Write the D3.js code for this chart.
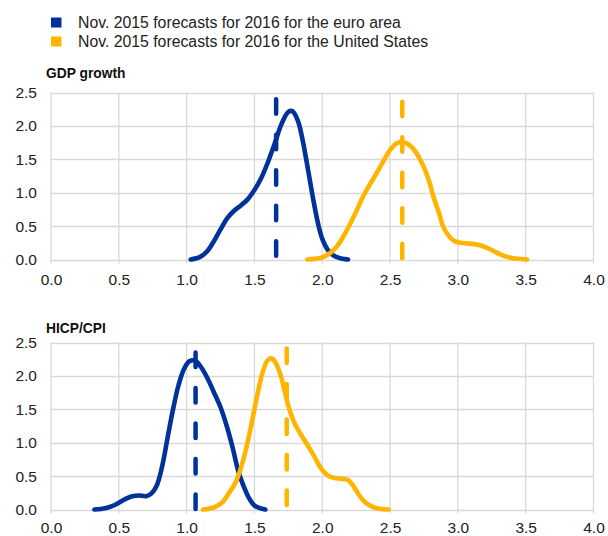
<!DOCTYPE html>
<html>
<head>
<meta charset="utf-8">
<script src="https://cdn.jsdelivr.net/npm/d3@7"></script>
<style>
  html, body { margin: 0; padding: 0; background: #fff; }
  svg { display: block; font-family: "Liberation Sans", Arial, sans-serif; }
</style>
</head>
<body>
<svg id="chart" width="608" height="536"></svg>
<script>
// ---------------- DATA ----------------
const legendLabels = [
  "Nov. 2015 forecasts for 2016 for the euro area",
  "Nov. 2015 forecasts for 2016 for the United States"
];
const seriesColors = ["#003299", "#FFB400"];
const panelTitles = ["GDP growth", "HICP/CPI"];
const xTicks = [0, 0.5, 1, 1.5, 2, 2.5, 3, 3.5, 4];
const yTicks = [0, 0.5, 1, 1.5, 2, 2.5];

// GDP growth densities [x, density]
const gdpEuro = [
  [1.03,0.00],[1.10,0.04],[1.15,0.12],[1.20,0.27],[1.25,0.45],[1.30,0.62],
  [1.35,0.73],[1.40,0.81],[1.45,0.90],[1.50,1.04],[1.55,1.22],[1.60,1.46],
  [1.65,1.74],[1.70,2.03],[1.75,2.21],[1.78,2.22],[1.82,2.08],[1.85,1.84],
  [1.88,1.52],[1.91,1.17],[1.94,0.83],[1.97,0.53],[2.00,0.31],[2.05,0.12],
  [2.10,0.04],[2.15,0.01],[2.19,0.00]
];
const gdpUS = [
  [1.89,0.00],[1.95,0.01],[2.01,0.04],[2.06,0.10],[2.11,0.20],[2.16,0.36],
  [2.21,0.55],[2.26,0.76],[2.30,0.94],[2.35,1.12],[2.40,1.29],[2.45,1.47],
  [2.50,1.64],[2.55,1.74],[2.59,1.76],[2.63,1.73],[2.67,1.66],[2.71,1.54],
  [2.75,1.38],[2.79,1.16],[2.82,0.94],[2.86,0.70],[2.89,0.50],[2.93,0.36],
  [2.97,0.28],[3.02,0.25],[3.07,0.24],[3.12,0.23],[3.17,0.21],[3.22,0.17],
  [3.27,0.12],[3.32,0.07],[3.38,0.03],[3.44,0.01],[3.51,0.00]
];
// HICP/CPI densities
const cpiEuro = [
  [0.32,0.00],[0.40,0.02],[0.45,0.05],[0.50,0.10],[0.55,0.16],[0.60,0.20],
  [0.65,0.21],[0.70,0.20],[0.74,0.24],[0.78,0.36],[0.82,0.65],[0.86,1.08],
  [0.90,1.50],[0.94,1.86],[0.98,2.10],[1.02,2.22],[1.06,2.23],[1.10,2.15],
  [1.15,1.98],[1.20,1.76],[1.25,1.53],[1.30,1.22],[1.34,0.92],[1.38,0.58],
  [1.42,0.35],[1.46,0.17],[1.50,0.06],[1.54,0.02],[1.58,0.00]
];
const cpiUS = [
  [1.12,0.00],[1.20,0.03],[1.26,0.10],[1.31,0.24],[1.36,0.40],[1.40,0.62],
  [1.44,0.92],[1.48,1.30],[1.52,1.70],[1.56,2.05],[1.60,2.24],[1.63,2.26],
  [1.66,2.18],[1.69,2.03],[1.72,1.80],[1.75,1.55],[1.79,1.32],[1.84,1.13],
  [1.89,0.97],[1.94,0.80],[1.99,0.62],[2.04,0.51],[2.09,0.47],[2.14,0.46],
  [2.19,0.44],[2.23,0.35],[2.27,0.22],[2.31,0.12],[2.36,0.05],[2.42,0.01],
  [2.49,0.00]
];
// Forecast means (dashed lines): x position and top of line
const gdpMeanX = [1.66, 2.59];
const gdpMeanTop = [2.40, 2.36];
const cpiMeanX = [1.066, 1.738];
const cpiMeanTop = [2.35, 2.41];

// ---------------- DRAW ----------------
const svg = d3.select("#chart");
svg.append("rect").attr("width", 608).attr("height", 536).attr("fill", "#fff");

// legend
const leg = svg.append("g");
legendLabels.forEach((lab, i) => {
  leg.append("rect").attr("x", 51).attr("y", 17.5 + i * 19).attr("width", 10.5).attr("height", 10)
    .attr("fill", seriesColors[i]);
  leg.append("text").attr("x", 78).attr("y", 27.5 + i * 19)
    .attr("font-size", "15.8px").attr("fill", "#222").text(lab);
});

const x = d3.scaleLinear().domain([0, 4]).range([51, 593.5]);

const panels = [
  { title: panelTitles[0], top: 92.5, bottom: 259.5, series: [gdpEuro, gdpUS], meanX: gdpMeanX, meanTop: gdpMeanTop, titleY: 77.5, pad: 10 },
  { title: panelTitles[1], top: 342.5, bottom: 509.5, series: [cpiEuro, cpiUS], meanX: cpiMeanX, meanTop: cpiMeanTop, titleY: 333, pad: 8 }
];

panels.forEach(p => {
  const y = d3.scaleLinear().domain([0, 2.5]).range([p.bottom, p.top]);
  const g = svg.append("g");

  // title
  g.append("text").attr("x", 46).attr("y", p.titleY)
    .attr("font-size", "13.8px").attr("font-weight", "bold").attr("fill", "#111").text(p.title);

  // horizontal gridlines
  g.selectAll(".hg").data(yTicks).enter().append("line")
    .attr("x1", x(0)).attr("x2", x(4))
    .attr("y1", d => Math.round(y(d)) + 0.5).attr("y2", d => Math.round(y(d)) + 0.5)
    .attr("stroke", "#d9d9d9").attr("stroke-width", 1.3);
  // vertical gridlines (extend below as ticks)
  g.selectAll(".vg").data(xTicks).enter().append("line")
    .attr("x1", d => x(d)).attr("x2", d => x(d))
    .attr("y1", y(2.5)).attr("y2", y(0) + 4)
    .attr("stroke", "#d9d9d9").attr("stroke-width", 1.3);

  // x axis labels
  const xa = d3.axisBottom(x).tickValues(xTicks).tickFormat(d3.format(".1f")).tickSize(4).tickPadding(p.pad);
  const gx = g.append("g").attr("transform", `translate(0,${y(0)})`).call(xa);
  gx.select(".domain").remove();
  gx.selectAll(".tick line").remove();
  gx.selectAll("text").attr("font-size", "15.5px").attr("font-family", "Liberation Sans, Arial, sans-serif").attr("fill", "#222");

  // y axis labels
  const ya = d3.axisLeft(y).tickValues(yTicks).tickFormat(d3.format(".1f")).tickSize(0).tickPadding(14);
  const gy = g.append("g").attr("transform", `translate(${x(0)},0)`).call(ya);
  gy.select(".domain").remove();
  gy.selectAll("text").attr("font-size", "15.5px").attr("font-family", "Liberation Sans, Arial, sans-serif").attr("fill", "#222");

  // density curves
  const line = d3.line().x(d => x(d[0])).y(d => y(d[1])).curve(d3.curveCatmullRom.alpha(0.5));
  p.series.forEach((s, i) => {
    g.append("path").datum(s).attr("d", line).attr("fill", "none")
      .attr("stroke", seriesColors[i]).attr("stroke-width", 4.6)
      .attr("stroke-linecap", "round").attr("stroke-linejoin", "round");
  });

  // dashed forecast lines (drawn top to bottom)
  p.meanX.forEach((mx, i) => {
    g.append("path").datum([[mx, p.meanTop[i]], [mx, 0]])
      .attr("d", d3.line().x(d => x(d[0])).y(d => y(d[1])))
      .attr("stroke", seriesColors[i]).attr("stroke-width", 4.5)
      .attr("stroke-dasharray", "14.5,21").attr("stroke-linecap", "round").attr("fill", "none");
  });
});
</script>
</body>
</html>
